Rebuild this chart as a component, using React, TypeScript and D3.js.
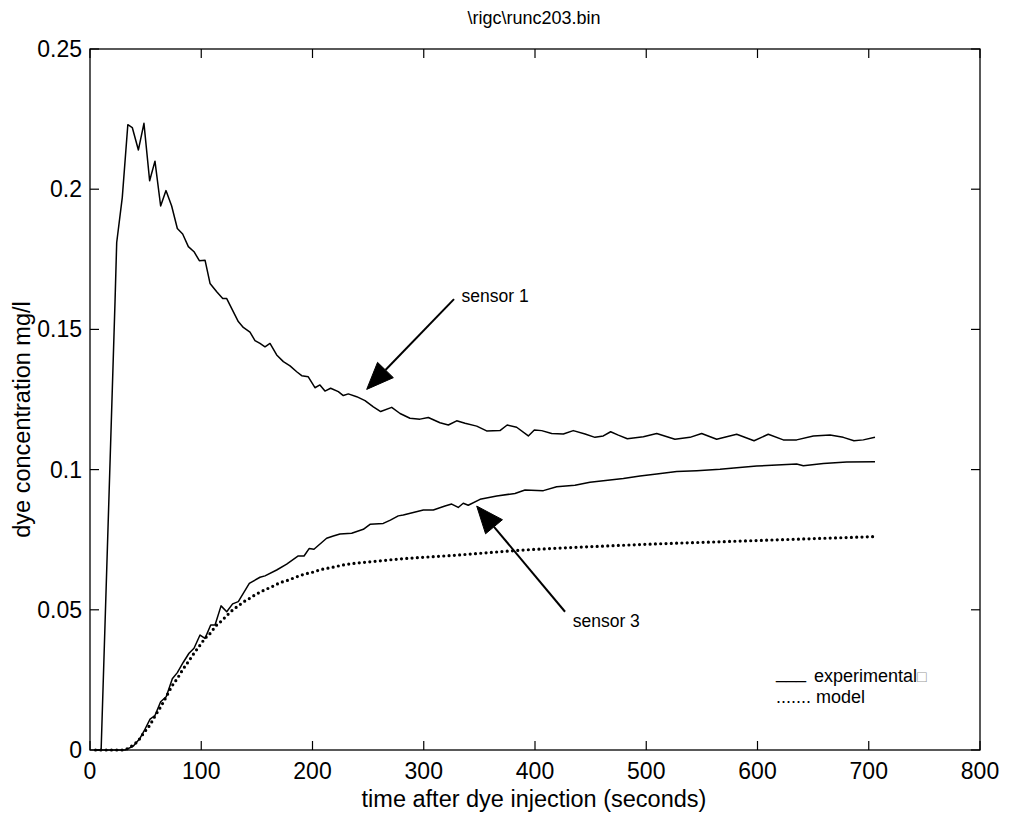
import React from "react";
import * as d3 from "d3";

// Dye concentration records: [time after injection (s), concentration (mg/l)]
const sensor1: [number, number][] = [
  [5, 0], [10, 0], [22.5, 0.16], [24, 0.181], [29, 0.197], [34, 0.223], [38, 0.222],
  [43.5, 0.214], [48.5, 0.2235], [53.6, 0.203], [58.4, 0.21], [63.5, 0.194], [68.3, 0.1995],
  [73.4, 0.194], [78.5, 0.186], [83.3, 0.184], [88.4, 0.1795], [93.5, 0.1777], [98.3, 0.1745],
  [103.4, 0.1747], [107.9, 0.1664], [113.9, 0.1634], [119.3, 0.161], [122.9, 0.161],
  [127.3, 0.1575], [133.3, 0.1528], [137.8, 0.1507], [143.8, 0.149], [148.3, 0.146],
  [152.8, 0.145], [157.3, 0.1438], [161.8, 0.145], [167.8, 0.1409], [173.8, 0.1385],
  [179.8, 0.137], [185.8, 0.1349], [190.3, 0.1335], [196.2, 0.1331], [202.2, 0.1292],
  [206.7, 0.1302], [211.2, 0.128], [216.3, 0.129], [223.2, 0.1278], [227.7, 0.1264],
  [232.2, 0.127], [239.7, 0.126], [247.2, 0.1246], [254.7, 0.1224], [261.3, 0.1207],
  [271.2, 0.1222], [278.7, 0.12], [287.6, 0.1183], [296.6, 0.118], [304.1, 0.1186],
  [314.6, 0.1167], [322.1, 0.1159], [329.6, 0.1174], [337.1, 0.1165], [347.6, 0.1155],
  [356.5, 0.1138], [368.5, 0.1139], [375, 0.1159], [383.5, 0.1151], [394, 0.112],
  [399.4, 0.1141], [406, 0.1139], [415, 0.1129], [425.5, 0.1127], [434.4, 0.1139],
  [445, 0.1127], [453.9, 0.1115], [461.4, 0.112], [468, 0.1135], [474.9, 0.1123],
  [483, 0.111], [497.4, 0.1117], [509.4, 0.1129], [525.8, 0.1108], [539.3, 0.1115],
  [549.8, 0.1129], [563.3, 0.1108], [581.3, 0.1126], [596.9, 0.1103], [609.7, 0.1126],
  [623.2, 0.1106], [635.2, 0.1106], [650.2, 0.112], [665.2, 0.1123], [677.1, 0.1115],
  [686.7, 0.1103], [695.1, 0.1106], [705.6, 0.1115],
];

const sensor3: [number, number][] = [
  [5, 0], [10, 0], [15, 0], [20, 0], [25, 0], [31.5, 0], [39, 0.0014], [45, 0.0042],
  [49.4, 0.0074], [54, 0.011], [58.4, 0.0123], [63.5, 0.0172], [68.5, 0.019], [74, 0.0254],
  [78.5, 0.0276], [83.9, 0.0313], [89, 0.0345], [93.5, 0.0363], [98.9, 0.041],
  [103.4, 0.0398], [108.5, 0.0446], [112.4, 0.0446], [117.8, 0.0514], [122.9, 0.0493],
  [128.2, 0.0521], [133.3, 0.0529], [143.2, 0.0594], [152.8, 0.0616], [157.3, 0.0621],
  [167.8, 0.0642], [176.8, 0.0663], [187.2, 0.0692], [192.4, 0.0692], [197.1, 0.0719],
  [201.3, 0.0716], [212.7, 0.0755], [218.7, 0.0763], [224.7, 0.077], [235.2, 0.0773],
  [245.7, 0.0787], [251.7, 0.0805], [263.6, 0.0808], [270, 0.082], [277.1, 0.0835],
  [281.6, 0.0838], [299.6, 0.0856], [308.6, 0.0856], [319.1, 0.087], [325.1, 0.0877],
  [331, 0.0865], [335.5, 0.088], [340, 0.0873], [350.6, 0.0894], [365.6, 0.0906],
  [382, 0.0915], [391, 0.0927], [407.5, 0.0925], [419.5, 0.0939], [435.9, 0.0944],
  [449.4, 0.0955], [467.4, 0.0963], [479.4, 0.0968], [494.4, 0.0977], [509.4, 0.0984],
  [527.4, 0.0993], [545.4, 0.0996], [566.3, 0.1001], [581.3, 0.1007], [599.3, 0.1013],
  [617.3, 0.1016], [635.2, 0.102], [641.2, 0.1014], [659.2, 0.1022], [680.2, 0.1027],
  [705.6, 0.1028],
];

const model3: [number, number][] = [
  [5, 0], [15, 0], [25, 0], [31, 0], [34, 0.0006], [39, 0.0018], [44.3, 0.0038],
  [48.5, 0.0062], [54, 0.009], [58.4, 0.0121], [64, 0.0157], [68.3, 0.0188], [73.4, 0.0226],
  [78.8, 0.0257], [83.6, 0.0288], [88.8, 0.0317], [93.5, 0.0345], [98.6, 0.0372],
  [103.4, 0.0398], [108.5, 0.0418], [113, 0.0442], [118.4, 0.0461], [123.4, 0.0481],
  [128.2, 0.0499], [133.3, 0.0514], [138.4, 0.0529], [143.2, 0.054], [148.3, 0.0553],
  [153.4, 0.0564], [158.2, 0.0573], [163.3, 0.0582], [168.4, 0.0592], [173.2, 0.06],
  [178.3, 0.0606], [183.4, 0.0614], [188.2, 0.0621], [193.3, 0.0628], [198.4, 0.0632],
  [203.1, 0.0638], [208.3, 0.0644], [217.3, 0.0651], [227.7, 0.066], [238.2, 0.0666],
  [248.7, 0.067], [259.1, 0.0674], [272, 0.0679], [329.6, 0.0695], [389.5, 0.0713],
  [449.4, 0.0725], [509.4, 0.0735], [569.3, 0.0743], [629.2, 0.0751], [705.6, 0.0761],
];

const xTicks = [0, 100, 200, 300, 400, 500, 600, 700, 800];
const yTicks = [0, 0.05, 0.1, 0.15, 0.2, 0.25];
const yTickLabels = ["0", "0.05", "0.1", "0.15", "0.2", "0.25"];

// Annotation arrows in data units: label anchor, arrow tail, arrow tip
const annotations = [
  { label: "sensor 1", text: [334, 0.1598], tail: [327.2, 0.1608], tip: [248.7, 0.1286] },
  { label: "sensor 3", text: [433.9, 0.044], tail: [427, 0.0493], tip: [347.6, 0.087] },
];

const W = 1009;
const H = 816;
const left = 90;
const right = 980;
const top = 49;
const bottom = 750;
const FONT = "'Liberation Sans', Arial, Helvetica, sans-serif";

export default function App() {
  const x = d3.scaleLinear().domain([0, 800]).range([left, right]);
  const y = d3.scaleLinear().domain([0, 0.25]).range([bottom, top]);

  const line = d3
    .line<[number, number]>()
    .x((d) => x(d[0]))
    .y((d) => y(d[1]));
  const smooth = d3
    .line<[number, number]>()
    .x((d) => x(d[0]))
    .y((d) => y(d[1]))
    .curve(d3.curveMonotoneX);

  const tickLen = 9;

  const arrowHead = (tail: number[], tip: number[]) => {
    const tx = x(tip[0]);
    const ty = y(tip[1]);
    const sx = x(tail[0]);
    const sy = y(tail[1]);
    const ang = Math.atan2(sy - ty, sx - tx);
    const len = 27;
    const half = 11;
    const bx = tx + len * Math.cos(ang);
    const by = ty + len * Math.sin(ang);
    const px = -Math.sin(ang) * half;
    const py = Math.cos(ang) * half;
    return {
      shaft: { x1: sx, y1: sy, x2: bx, y2: by },
      head: `M${tx},${ty}L${bx + px},${by + py}L${bx - px},${by - py}Z`,
    };
  };

  return (
    <svg
      width={W}
      height={H}
      style={{ position: "absolute", left: 0, top: 0, background: "#fff" }}
      fontFamily={FONT}
    >
      <rect x={0} y={0} width={W} height={H} fill="#fff" />

      <text x={(left + right) / 2 - 1} y={24} textAnchor="middle" fontSize={18} fill="#000">
        {"\\rigc\\runc203.bin"}
      </text>

      {/* box */}
      <rect
        x={left}
        y={top}
        width={right - left}
        height={bottom - top}
        fill="none"
        stroke="#000"
        strokeWidth={1.3}
      />

      {/* x ticks */}
      {xTicks.map((t) => (
        <g key={"xt" + t}>
          <line x1={x(t)} x2={x(t)} y1={bottom} y2={bottom - tickLen} stroke="#000" strokeWidth={1.2} />
          <line x1={x(t)} x2={x(t)} y1={top} y2={top + tickLen} stroke="#000" strokeWidth={1.2} />
          <text x={x(t)} y={779} textAnchor="middle" fontSize={23} fill="#000">
            {t}
          </text>
        </g>
      ))}

      {/* y ticks */}
      {yTicks.map((v, i) => (
        <g key={"yt" + v}>
          <line x1={left} x2={left + tickLen} y1={y(v)} y2={y(v)} stroke="#000" strokeWidth={1.2} />
          <line x1={right} x2={right - tickLen} y1={y(v)} y2={y(v)} stroke="#000" strokeWidth={1.2} />
          <text x={left - 8} y={y(v) + 8} textAnchor="end" fontSize={23} fill="#000">
            {yTickLabels[i]}
          </text>
        </g>
      ))}

      <text x={(left + right) / 2 - 1} y={807} textAnchor="middle" fontSize={23.5} fill="#000">
        time after dye injection (seconds)
      </text>
      <text
        transform={`translate(30, ${(top + bottom) / 2 + 20}) rotate(-90)`}
        textAnchor="middle"
        fontSize={23.5}
        fill="#000"
      >
        dye concentration mg/l
      </text>

      {/* series */}
      <path d={line(sensor1) || ""} fill="none" stroke="#000" strokeWidth={1.5} strokeLinejoin="round" />
      <path d={line(sensor3) || ""} fill="none" stroke="#000" strokeWidth={1.5} strokeLinejoin="round" />
      <path
        d={smooth(model3) || ""}
        fill="none"
        stroke="#000"
        strokeWidth={3.2}
        strokeLinecap="round"
        strokeDasharray="0 5.3"
      />

      {/* annotations */}
      {annotations.map((a) => {
        const ah = arrowHead(a.tail, a.tip);
        return (
          <g key={a.label}>
            <line {...ah.shaft} stroke="#000" strokeWidth={2} />
            <path d={ah.head} fill="#000" stroke="#000" strokeWidth={1} strokeLinejoin="miter" />
            <text x={x(a.text[0])} y={y(a.text[1])} fontSize={17.5} fill="#000">
              {a.label}
            </text>
          </g>
        );
      })}

      {/* legend */}
      <text x={776} y={678} fontSize={18} fill="#000">
        {"___"}
      </text>
      <text x={814} y={682} fontSize={18} fill="#000">
        {"experimental"}
        <tspan fill="#999" fontSize={16}>{"\u25A1"}</tspan>
      </text>
      <text x={776} y={703} fontSize={18} fill="#000">
        {"....... model"}
      </text>
    </svg>
  );
}
